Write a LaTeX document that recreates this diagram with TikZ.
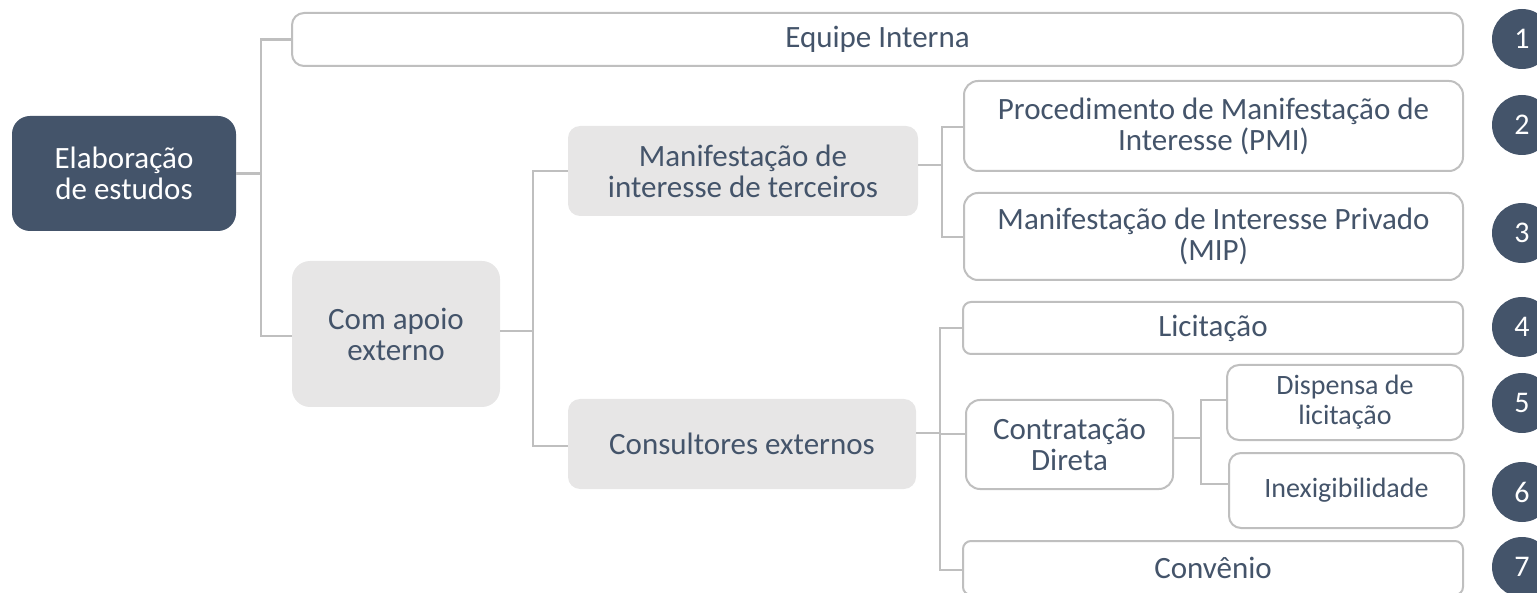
\documentclass[tikz,border=0pt]{standalone}
\usepackage{fontspec}
\setmainfont{Carlito}
\definecolor{dark}{HTML}{44546A}
\definecolor{lgray}{HTML}{E7E6E6}
\definecolor{bord}{HTML}{BFBFBF}
\begin{document}
\begin{tikzpicture}[x=1pt,y=-1pt,
  base/.style={align=center, text=dark, font=\fontsize{31}{31}\selectfont, inner sep=0pt, rounded corners=12pt},
  wbox/.style={base, draw=bord, line width=2pt, fill=white},
  gbox/.style={base, fill=lgray, rounded corners=18pt},
  dbox/.style={base, fill=dark, text=white, rounded corners=18pt},
  small/.style={font=\fontsize{28}{30}\selectfont},
  num/.style={circle, fill=dark, text=white, minimum size=60pt, inner sep=0pt, font=\fontsize{30}{30}\selectfont},
  conn/.style={draw=bord, line width=2.5pt}]
\useasboundingbox (0,0) rectangle (1537,593);
% nodes
\node[dbox, minimum width=224pt, minimum height=115pt] (elab) at (124,173.5) {Elaboração\\de estudos};
\node[wbox, minimum width=1171pt, minimum height=53pt] (equipe) at (877.5,39.5) {Equipe Interna};
\node[gbox, minimum width=208pt, minimum height=146pt] (apoio) at (396,334) {Com apoio\\externo};
\node[gbox, minimum width=350pt, minimum height=90pt, rounded corners=12pt] (manif) at (743,171) {Manifestação de\\interesse de terceiros};
\node[gbox, minimum width=348pt, minimum height=90pt, rounded corners=12pt] (cons) at (742,444) {Consultores externos};
\node[wbox, minimum width=499pt, minimum height=90pt, rounded corners=14pt] (pmi) at (1213.5,126) {Procedimento de Manifestação de\\Interesse (PMI)};
\node[wbox, minimum width=499pt, minimum height=87pt, rounded corners=14pt] (mip) at (1213.5,236.5) {Manifestação de Interesse Privado\\(MIP)};
\node[wbox, minimum width=500pt, minimum height=52pt, rounded corners=8pt] (lic) at (1213,328) {Licitação};
\node[wbox, minimum width=207pt, minimum height=89pt, rounded corners=14pt] (contr) at (1069.5,444.5) {Contratação\\Direta};
\node[wbox, small, minimum width=236pt, minimum height=75pt, rounded corners=12pt] (disp) at (1345,402.5) {Dispensa de\\licitação};
\node[wbox, small, minimum width=235pt, minimum height=75pt, rounded corners=12pt] (inex) at (1346.5,490.5) {Inexigibilidade};
\node[wbox, minimum width=500pt, minimum height=54pt, rounded corners=8pt] (conv) at (1213,568) {Convênio};
% numbers
\node[num] (n1) at (1522,39) {1};
\node[num] (n2) at (1522,125) {2};
\node[num] (n3) at (1522,233) {3};
\node[num] (n4) at (1522,327) {4};
\node[num] (n5) at (1522,403) {5};
\node[num] (n6) at (1522,492) {6};
\node[num] (n7) at (1522,567) {7};
% connectors
\draw[conn] (elab.east) -- ++(25,0) |- (equipe.west);
\draw[conn] (elab.east) -- ++(25,0) |- ([yshift=-2pt]apoio.west);
\draw[conn] ([yshift=3pt]apoio.east) -- ++(33,0) |- (manif.west);
\draw[conn] ([yshift=3pt]apoio.east) -- ++(33,0) |- ([yshift=-2pt]cons.west);
\draw[conn] ([yshift=6pt]manif.east) -- ++(24,0) |- ([yshift=-1pt]pmi.west);
\draw[conn] ([yshift=6pt]manif.east) -- ++(24,0) |- ([yshift=-0.5pt]mip.west);
\draw[conn] ([yshift=11pt]cons.east) -- ++(24,0) |- (lic.west);
\draw[conn] ([yshift=11pt]cons.east) -- ++(24,0) |- ([yshift=10.5pt]contr.west);
\draw[conn] ([yshift=11pt]cons.east) -- ++(24,0) |- ([yshift=-2pt]conv.west);
\draw[conn] ([yshift=6.5pt]contr.east) -- ++(27,0) |- ([yshift=2.5pt]disp.west);
\draw[conn] ([yshift=6.5pt]contr.east) -- ++(27,0) |- ([yshift=6.5pt]inex.west);
\end{tikzpicture}
\end{document}
